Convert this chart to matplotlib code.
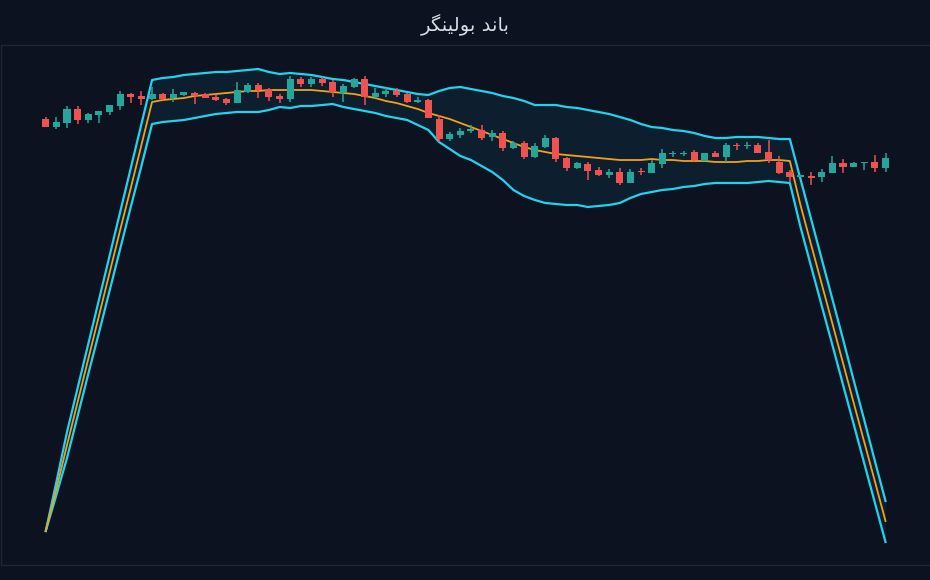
import numpy as np
import matplotlib.pyplot as plt

# ==========================
# Data
# ==========================
opens = [111.4, 109.6, 110.6, 114.0, 111.3, 112.5, 113.2, 114.8, 117.8, 117.3,
         116.5, 117.8, 116.8, 117.6, 118.0, 117.7, 117.0, 116.5, 115.6, 118.3,
         120.0, 118.9, 117.3, 116.5, 121.5, 120.3, 121.5, 120.8, 118.1, 119.6,
         121.4, 116.9, 117.8, 118.5, 117.8, 115.8, 116.3, 111.6, 106.5, 107.6,
         108.4, 108.8, 107.1, 108.1, 104.3, 105.4, 102.1, 104.4, 106.8, 101.8,
         99.3, 100.3, 98.8, 97.5, 98.3, 95.6, 98.4, 98.1, 100.3, 102.7,
         102.7, 103.2, 101.1, 103.1, 102.1, 105.0, 104.7, 105.0, 103.3, 100.8,
         98.2, 97.1, 97.2, 96.9, 98.1, 100.6, 99.6, 100.4, 100.8, 99.3]
highs = [112.1, 111.9, 114.8, 114.8, 113.1, 113.5, 115.0, 118.5, 118.1, 118.5,
         119.4, 118.1, 119.0, 118.3, 118.3, 117.9, 117.7, 116.7, 120.8, 120.4,
         120.6, 119.3, 117.8, 122.3, 122.1, 122.1, 121.9, 121.3, 120.3, 121.7,
         122.3, 119.3, 119.2, 119.3, 117.9, 117.1, 116.4, 112.5, 108.3, 109.2,
         109.9, 109.9, 108.8, 108.4, 106.1, 106.0, 105.4, 107.5, 106.9, 101.9,
         100.8, 100.7, 99.6, 99.0, 99.2, 98.9, 99.2, 101.3, 104.0, 103.6,
         103.6, 103.7, 103.1, 103.6, 105.4, 105.6, 105.8, 105.4, 106.3, 102.2,
         98.7, 97.5, 98.3, 99.0, 102.2, 101.5, 100.8, 100.8, 102.5, 103.1]
lows = [109.5, 109.0, 109.3, 110.3, 110.6, 110.6, 112.5, 113.8, 115.4, 115.0,
        116.3, 116.3, 115.8, 117.3, 115.3, 116.7, 115.9, 115.0, 115.5, 117.9,
        116.8, 116.0, 115.6, 115.8, 119.4, 119.6, 119.8, 117.1, 115.8, 119.3,
        115.0, 116.7, 117.1, 116.9, 115.4, 115.4, 111.7, 105.8, 106.1, 106.8,
        108.0, 106.3, 106.1, 103.6, 104.1, 101.5, 101.7, 104.2, 100.7, 98.5,
        99.1, 96.3, 97.3, 96.8, 95.1, 95.4, 97.5, 97.9, 99.3, 102.1,
        102.2, 101.1, 101.1, 101.9, 100.7, 103.7, 103.9, 102.9, 100.4, 97.7,
        95.8, 97.0, 95.0, 95.8, 97.9, 98.1, 99.5, 98.7, 98.3, 98.3]
closes = [109.6, 110.8, 114.0, 111.3, 112.7, 113.5, 115.0, 117.8, 117.0, 116.4,
          117.8, 116.5, 117.8, 118.2, 117.3, 116.8, 116.3, 115.5, 118.8, 120.0,
          118.7, 117.1, 116.5, 121.5, 120.3, 121.5, 120.6, 118.2, 119.8, 121.4,
          117.1, 118.1, 118.6, 117.6, 115.8, 116.3, 111.8, 106.6, 107.8, 108.6,
          109.0, 106.8, 107.9, 104.3, 105.4, 102.1, 104.8, 106.8, 101.5, 99.3,
          100.4, 98.5, 97.5, 98.3, 95.6, 98.3, 98.2, 100.6, 102.9, 102.9,
          103.1, 101.2, 103.1, 102.1, 105.0, 104.7, 105.1, 103.1, 101.2, 97.9,
          97.1, 97.4, 96.8, 98.3, 100.6, 99.6, 100.6, 100.8, 99.3, 101.8]

band_upper = [8.5, 20.75, 33.25, 44.25, 55.25, 66.25, 77.25, 88.25, 99.25, 110.25,
              121.25, 121.75, 122.0, 122.5, 122.75, 123.0, 123.25, 123.25, 123.5, 123.75,
              124.0, 123.25, 122.75, 123.0, 122.75, 122.5, 122.0, 121.5, 121.25, 120.75,
              120.25, 119.75, 119.25, 118.75, 118.25, 117.75, 117.5, 118.5, 119.25, 119.5,
              119.0, 118.5, 118.0, 117.25, 116.75, 116.0, 115.0, 115.0, 115.0, 114.5,
              114.25, 113.75, 113.25, 112.75, 112.0, 111.25, 110.25, 109.5, 109.25, 108.75,
              108.5, 108.0, 107.25, 106.75, 106.75, 107.0, 107.0, 107.0, 106.75, 106.5,
              106.5, 96.5, 86.5, 76.5, 66.5, 56.5, 46.25, 36.25, 26.0, 16.0]
band_mid = [8.5, 19.0, 30.0, 40.75, 51.5, 62.25, 73.0, 83.75, 94.25, 105.0,
            115.75, 116.25, 116.5, 116.75, 117.25, 117.5, 117.75, 118.0, 118.25, 118.5,
            118.5, 118.75, 118.75, 118.75, 118.75, 118.75, 118.5, 118.25, 118.0, 117.75,
            117.25, 116.75, 116.0, 115.5, 114.75, 114.0, 113.0, 112.25, 111.5, 110.5,
            109.5, 108.5, 107.5, 106.5, 105.5, 104.5, 103.75, 103.25, 102.75, 102.5,
            102.25, 102.0, 101.75, 101.5, 101.25, 101.25, 101.25, 101.5, 101.25, 101.25,
            101.0, 101.0, 101.0, 100.75, 100.75, 100.75, 101.0, 101.0, 101.25, 101.25,
            101.0, 90.0, 80.1, 70.25, 60.4, 50.5, 40.6, 30.75, 20.9, 11.0]
band_lower = [8.5, 17.5, 26.75, 37.25, 47.75, 58.0, 68.5, 79.0, 89.5, 99.75,
              110.25, 110.75, 111.0, 111.25, 111.75, 112.25, 112.75, 113.0, 113.25, 113.25,
              113.25, 113.75, 114.5, 114.25, 114.75, 114.75, 115.0, 115.25, 114.5, 114.0,
              113.5, 113.0, 112.25, 111.75, 111.25, 110.0, 108.75, 105.75, 104.0, 102.25,
              101.25, 99.75, 98.25, 96.25, 93.75, 92.25, 91.25, 90.5, 90.25, 90.0,
              90.0, 89.5, 89.75, 90.0, 90.5, 91.75, 92.75, 93.25, 93.75, 94.0,
              94.5, 94.75, 95.25, 95.5, 95.5, 95.5, 95.5, 95.75, 96.0, 95.75,
              95.5, 84.5, 74.65, 64.8, 55.0, 45.1, 35.25, 25.4, 15.55, 5.75]

# "باند بولینگر" in shaped presentation forms, visual order (matplotlib has no Arabic shaping)
title_text = "\uFEAE\uFB95\uFEE8\uFBFF\uFEDF\uFEEE\uFE91 \uFEAA\uFEE7\uFE8E\uFE91"

# ==========================
# Style
# ==========================
BG = "#0c1220"
UP = "#26a69a"
DOWN = "#ef5350"
BAND = "#22d3ee"
MID = "#f5a01a"

fig = plt.figure(figsize=(9.3, 5.8), dpi=100, facecolor=BG)
ax = fig.add_axes([0.0008, 15 / 580, 1.0, 520 / 580], facecolor=BG)

x = np.arange(len(closes))
o = np.array(opens)
c = np.array(closes)

# band
ax.fill_between(x, band_lower, band_upper, color=BAND, alpha=0.07, lw=0, zorder=1)
ax.plot(x, band_upper, color=BAND, lw=1.6, zorder=2)
ax.plot(x, band_lower, color=BAND, lw=1.6, zorder=2)
ax.plot(x, band_mid, color=MID, lw=1.3, zorder=3)

# candles
cols = np.where(c >= o, UP, DOWN)
ax.vlines(x, lows, highs, colors=cols, lw=1.1, zorder=4)
body = np.maximum(np.abs(c - o), 0.3)
ax.bar(x, body, bottom=np.minimum(o, c), width=0.66, color=cols, lw=0, zorder=5)

ax.set_xlim(-45 / 10.63, (930 - 45) / 10.63)
ax.set_ylim(0, 130)
ax.set_xticks([])
ax.set_yticks([])
for s in ax.spines.values():
    s.set_color("#1e2633")
    s.set_linewidth(1)

fig.text(0.5, 1 - 25 / 580, title_text, color="#d9dce3", fontsize=14,
         ha="center", va="center", family=["DejaVu Sans"])

fig.savefig("out.png", dpi=100, facecolor=BG)
